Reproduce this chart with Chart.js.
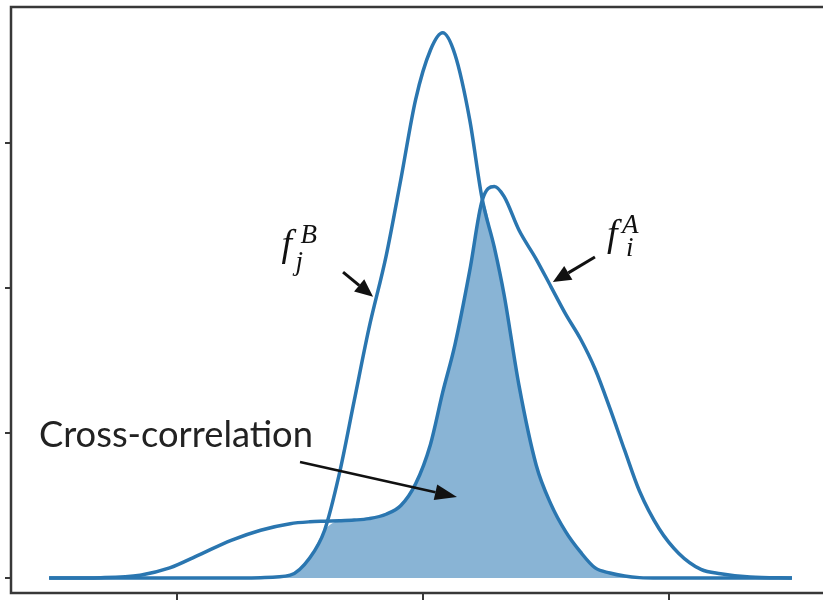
<!DOCTYPE html>
<html>
<head>
<meta charset="utf-8">
<script src="https://cdn.jsdelivr.net/npm/chart.js@4"></script>
<style>
    html, body {margin: 0; padding: 0; background: #fff; overflow: hidden;}
    #wrap {width: 850px; height: 600px;}
</style>
</head>
<body>
<div id="wrap"><canvas id="chart"></canvas></div>
<script>
// shared x grid for both densities
const xs = [-1.52, -1.31, -1.15, -1.03, -0.91, -0.78, -0.66, -0.54, -0.46, -0.40, -0.34, -0.28, -0.22, -0.15, -0.09, -0.03,
    0.03, 0.08, 0.13, 0.19, 0.24, 0.29, 0.33, 0.39, 0.46, 0.52, 0.58, 0.64, 0.70, 0.76, 0.82, 0.88, 0.96, 1.04, 1.13, 1.21, 1.33, 1.50];
const fA = [0, 0.003, 0.02, 0.07, 0.16, 0.26, 0.33, 0.375, 0.388, 0.392, 0.395, 0.40, 0.41, 0.44, 0.50, 0.65,
    0.92, 1.28, 1.61, 2.12, 2.60, 2.70, 2.63, 2.40, 2.20, 2.01, 1.82, 1.65, 1.44, 1.17, 0.88, 0.60, 0.34, 0.17, 0.06, 0.03, 0.007, 0];
const fB = [0, 0, 0, 0, 0, 0, 0.003, 0.02, 0.14, 0.33, 0.72, 1.22, 1.72, 2.22, 2.75, 3.30,
    3.64, 3.76, 3.61, 3.16, 2.62, 2.28, 1.95, 1.33, 0.78, 0.51, 0.32, 0.18, 0.07, 0.035, 0.014, 0.003, 0, 0, 0, 0, 0, 0];
const xTicks = [-1, 0, 1];
const yTicks = [0, 1, 2, 3];

const lineColor = "#2a76b0";
const fillColor = "#89b4d5";

const overlap = xs.map((x, i) => Math.min(fA[i], fB[i]));
const pts = arr => xs.map((x, i) => ({x, y: arr[i]}));

function arrow(ctx, x1, y1, x2, y2, w, head, half) {
    const a = Math.atan2(y2 - y1, x2 - x1);
    const bx = x2 - head * Math.cos(a), by = y2 - head * Math.sin(a);
    ctx.lineWidth = w;
    ctx.beginPath();
    ctx.moveTo(x1, y1);
    ctx.lineTo(bx, by);
    ctx.stroke();
    ctx.beginPath();
    ctx.moveTo(x2, y2);
    ctx.lineTo(bx + half * Math.sin(a), by - half * Math.cos(a));
    ctx.lineTo(bx - half * Math.sin(a), by + half * Math.cos(a));
    ctx.closePath();
    ctx.fill();
}

function mathLabel(ctx, x, y, sup, sub, supDx, subDx, subDy) {
    ctx.font = 'italic 38px "Liberation Serif"';
    ctx.fillText("f", x, y);
    ctx.font = 'italic 27px "Liberation Serif"';
    ctx.fillText(sup, x + supDx, y - 13);
    ctx.fillText(sub, x + subDx, y + subDy);
}

const annotations = {
    id: "annotations",
    afterDraw(chart) {
        const {ctx, chartArea, scales: {x, y}} = chart;
        ctx.save();
        // frame
        ctx.strokeStyle = "#383838";
        ctx.lineWidth = 2.5;
        ctx.strokeRect(chartArea.left, chartArea.top, chartArea.right - chartArea.left, chartArea.bottom - chartArea.top);

        ctx.fillStyle = "#111";
        ctx.strokeStyle = "#111";
        ctx.textBaseline = "alphabetic";
        ctx.textAlign = "left";

        // Cross-correlation
        const label = "Cross-correlation";
        ctx.font = '36px Lato';
        const size = 36 * 274 / ctx.measureText(label).width;
        ctx.font = `${size}px Lato`;
        ctx.fillStyle = "#222";
        ctx.fillText(label, x.getPixelForValue(-1.561), y.getPixelForValue(0.903));
        ctx.fillStyle = "#111";
        arrow(ctx, x.getPixelForValue(-0.5), y.getPixelForValue(0.80),
            x.getPixelForValue(0.138), y.getPixelForValue(0.559), 2.5, 22, 8);

        // f_j^B
        mathLabel(ctx, x.getPixelForValue(-0.575), y.getPixelForValue(2.22), "B", "j", 19, 14, 14);
        arrow(ctx, x.getPixelForValue(-0.325), y.getPixelForValue(2.11),
            x.getPixelForValue(-0.203), y.getPixelForValue(1.94), 3, 18, 8);

        // f_i^A
        mathLabel(ctx, x.getPixelForValue(0.748), y.getPixelForValue(2.29), "A", "i", 15, 19, 10);
        arrow(ctx, x.getPixelForValue(0.699), y.getPixelForValue(2.214),
            x.getPixelForValue(0.528), y.getPixelForValue(2.041), 3, 18, 8);
        ctx.restore();
    }
};

new Chart(document.getElementById("chart"), {
    type: "line",
    data: {
        datasets: [
            {
                label: "fB",
                data: pts(fB),
                borderColor: lineColor,
                borderWidth: 3.5,
                pointRadius: 0,
                cubicInterpolationMode: "monotone",
                fill: false,
                order: 1
            },
            {
                label: "fA",
                data: pts(fA),
                borderColor: lineColor,
                borderWidth: 3.5,
                pointRadius: 0,
                cubicInterpolationMode: "monotone",
                fill: false,
                order: 2
            },
            {
                label: "overlap",
                data: pts(overlap),
                borderWidth: 0,
                borderColor: "rgba(0,0,0,0)",
                backgroundColor: fillColor,
                pointRadius: 0,
                cubicInterpolationMode: "monotone",
                fill: "origin",
                order: 3
            }
        ]
    },
    options: {
        responsive: true,
        maintainAspectRatio: false,
        animation: false,
        events: [],
        layout: {padding: {top: 7, left: 5, right: 15, bottom: 0}},
        plugins: {legend: {display: false}, tooltip: {enabled: false}},
        scales: {
            x: {
                type: "linear",
                min: -1.675,
                max: 1.675,
                afterBuildTicks: axis => { axis.ticks = xTicks.map(v => ({value: v})); },
                ticks: {display: false},
                border: {display: false},
                grid: {drawOnChartArea: false, drawTicks: true, tickLength: 7, color: "#383838", lineWidth: 2}
            },
            y: {
                min: -0.103,
                max: 3.938,
                afterBuildTicks: axis => { axis.ticks = yTicks.map(v => ({value: v})); },
                ticks: {display: false},
                border: {display: false},
                grid: {drawOnChartArea: false, drawTicks: true, tickLength: 6, color: "#383838", lineWidth: 2}
            }
        }
    },
    plugins: [annotations]
});
</script>
</body>
</html>
